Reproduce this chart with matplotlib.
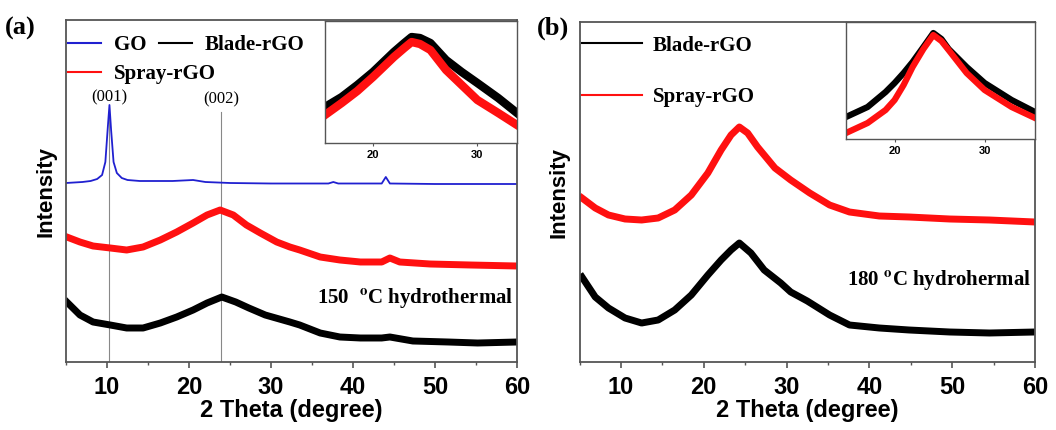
import numpy as np
import matplotlib
matplotlib.use("Agg")
import matplotlib.pyplot as plt
from matplotlib.ticker import MultipleLocator

plt.rcParams["mathtext.fontset"] = "stix"

W, H = 1056, 430

# ---- panel (a): 150 C hydrothermal (intensity in arbitrary units) ----
go_x = [5, 7, 8, 8.8, 9.4, 9.8, 10.1, 10.3, 10.5, 10.8, 11.2, 11.8, 12.5, 14, 18, 20.5, 22,
        25, 30, 37, 37.6, 38.2, 43.5, 44.0, 44.5, 50, 60]
go_y = [179, 180, 181, 183, 187, 200, 235, 257, 232, 200, 189, 184, 182, 181, 181, 182, 180,
        179, 178.5, 178.5, 180, 178.5, 178.5, 185, 178.5, 178, 178]

spray_a_x = [5.1, 6.7, 8.3, 10.4, 12.4, 14.4, 16.5, 18.5, 20.5, 22.2, 23.8, 25.4, 27.0, 28.7,
             30.7, 32.3, 33.5, 36.0, 38.4, 40.9, 43.5, 44.5, 45.7, 49.4, 54.3, 60]
spray_a_y = [125, 120, 116, 114, 112, 115, 122, 130, 139, 147, 152, 147, 137, 129,
             120, 115, 112, 105, 102, 100, 100, 104, 100, 98, 97, 96]

blade_a_x = [5.1, 6.7, 8.3, 10.4, 12.4, 14.4, 16.5, 18.5, 20.5, 22.2, 24.0, 25.7, 27.3, 29.3,
             32.3, 33.5, 36.0, 38.4, 40.9, 43.5, 44.5, 47.3, 51.6, 55.2, 60]
blade_a_y = [60, 47, 40, 37, 34, 34, 39, 45, 52, 59, 65, 60, 54, 47,
             40, 37, 29, 25, 24, 24, 25, 21, 20, 19, 20]

# inset (a)
ins_a_x = [15.4, 17, 18.5, 20, 21, 22, 23, 23.7, 24.5, 25.5, 27, 28.5, 30, 32, 33.8]
ins_a_spray = [28, 40, 52, 66, 76, 86, 95, 101, 99, 93, 73, 58, 43, 30, 18]
ins_a_blade = [36, 46, 58, 71, 81, 91, 100, 106, 105, 100, 83, 71, 60, 45, 30]

# ---- panel (b): 180 C hydrothermal ----
spray_b_x = [5.3, 6.9, 8.5, 10.5, 12.5, 14.5, 16.5, 18.5, 20.5, 22.1, 23.3, 24.3, 25.3, 26.5,
             28.6, 30.5, 32.8, 35.2, 37.6, 41.2, 44.8, 49.7, 54.5, 60]
spray_b_y = [164, 154, 147, 143, 142, 144, 152, 167, 189, 212, 227, 235, 229, 215,
             194, 182, 169, 157, 150, 146, 145, 143, 142, 140]

blade_b_x = [5.3, 6.9, 8.5, 10.5, 12.5, 14.5, 16.5, 18.5, 20.5, 22.1, 23.3, 24.3, 25.7, 27.3,
             29.3, 30.5, 32.5, 35.2, 37.6, 41.2, 44.8, 49.7, 54.5, 60]
blade_b_y = [85, 65, 54, 44, 39, 42, 52, 67, 87, 102, 112, 119, 109, 92,
             79, 70, 61, 47, 37, 34, 32, 30, 29, 30]

# inset (b)
ins_b_x = [14.6, 17, 19, 20, 21, 22, 23.2, 24.3, 25.2, 26, 28, 30, 33, 35.6]
ins_b_spray = [6, 16, 29, 39, 54, 72, 90, 104, 98, 89, 66, 49, 32, 21]
ins_b_blade = [22, 32, 47, 56, 66, 77, 92, 106, 100, 90, 72, 56, 39, 27]

xticks = [10, 20, 30, 40, 50, 60]
inset_ticks = [20, 30]

SERIF = "Liberation Serif"
SANS = "Liberation Sans"
FRAME = "#555555"
LEG_FONT = {"family": SERIF, "weight": "bold", "size": 15}


def fig_rect(x0, y0, x1, y1):
    return [x0 / W, (H - y1) / H, (x1 - x0) / W, (y1 - y0) / H]


def style_main(ax, ymax):
    ax.set_xlim(5, 60)
    ax.set_ylim(0, ymax)
    ax.set_xticks(xticks)
    ax.xaxis.set_minor_locator(MultipleLocator(5))
    ax.set_yticks([])
    ax.tick_params(axis="x", which="major", direction="out", length=4, width=1.2,
                   color=FRAME, pad=6)
    ax.tick_params(axis="x", which="minor", direction="out", length=2.5, width=1,
                   color=FRAME)
    for lab in ax.get_xticklabels():
        lab.set_fontfamily(SANS)
        lab.set_fontweight("bold")
        lab.set_fontsize(17)
    for sp in ax.spines.values():
        sp.set_color(FRAME)
        sp.set_linewidth(1.3)
    ax.set_xlabel("2 Theta (degree)", fontfamily=SANS, fontweight="bold", fontsize=17,
                  labelpad=0)
    ax.set_ylabel("Intensity", fontfamily=SANS, fontweight="bold", fontsize=16, labelpad=7)


def style_inset(ax, xlim, ymax):
    ax.set_xlim(*xlim)
    ax.set_ylim(0, ymax)
    ax.set_xticks(inset_ticks)
    ax.set_yticks([])
    ax.tick_params(axis="x", direction="out", length=2, width=0.8, color=FRAME, pad=3,
                   labelsize=8)
    for lab in ax.get_xticklabels():
        lab.set_fontfamily(SANS)
        lab.set_fontweight("bold")
    for sp in ax.spines.values():
        sp.set_color(FRAME)
        sp.set_linewidth(1.0)


def thin_handles(leg):
    for h in leg.legend_handles:
        h.set_linewidth(1.5)


fig = plt.figure(figsize=(W / 100, H / 100), dpi=100)

# panel (a)
ax_a = fig.add_axes(fig_rect(66, 20, 517, 362))
ax_a.axvline(10.3, ymin=0, ymax=(342 - 97) / 342, color="#888888", lw=0.8)
ax_a.axvline(23.9, ymin=0, ymax=(342 - 92) / 342, color="#888888", lw=0.8)
l_go, = ax_a.plot(go_x, go_y, color="#2020d0", lw=1.3, label="GO")
l_sp, = ax_a.plot(spray_a_x, spray_a_y, color="#ff1010", lw=5, label="Spray-rGO")
l_bl, = ax_a.plot(blade_a_x, blade_a_y, color="black", lw=5, label="Blade-rGO")
style_main(ax_a, 342)
ax_a.text(10.3, 342 - 77, "(001)", ha="center", va="center", fontfamily=SERIF, fontsize=12)
ax_a.text(23.9, 342 - 79, "(002)", ha="center", va="center", fontfamily=SERIF, fontsize=12)
ax_a.text(59.5, 362 - 298, r"150  $^{\mathbf{o}}$C hydrothermal", ha="right", va="center",
          fontfamily=SERIF, fontweight="bold", fontsize=15)
leg1 = ax_a.legend(handles=[l_go, l_bl], ncol=2, loc="upper left",
                   bbox_to_anchor=(0.004, 0.955), frameon=False, borderaxespad=0,
                   borderpad=0, handlelength=1.6, handletextpad=0.6, columnspacing=0.6,
                   prop=LEG_FONT)
thin_handles(leg1)
ax_a.add_artist(leg1)
leg2 = ax_a.legend(handles=[l_sp], loc="upper left", bbox_to_anchor=(0.004, 0.87),
                   frameon=False, borderaxespad=0, borderpad=0, handlelength=1.6,
                   handletextpad=0.6, prop=LEG_FONT)
thin_handles(leg2)
fig.text(5 / W, (H - 28) / H, "(a)", ha="left", va="center", fontfamily=SERIF,
         fontweight="bold", fontsize=19)

ins_a = fig.add_axes(fig_rect(325, 21, 517, 143))
ins_a.plot(ins_a_x, ins_a_blade, color="black", lw=6)
ins_a.plot(ins_a_x, ins_a_spray, color="#ff1010", lw=6)
style_inset(ins_a, (15.4, 33.8), 122)

# panel (b)
ax_b = fig.add_axes(fig_rect(579.5, 22, 1035, 362))
l_bl_b, = ax_b.plot(blade_b_x, blade_b_y, color="black", lw=5, label="Blade-rGO")
l_sp_b, = ax_b.plot(spray_b_x, spray_b_y, color="#ff1010", lw=5, label="Spray-rGO")
style_main(ax_b, 340)
ax_b.text(59.5, 362 - 280, r"180 $^{\mathbf{o}}$C hydrohermal", ha="right", va="center",
          fontfamily=SERIF, fontweight="bold", fontsize=15)
leg_b = ax_b.legend(handles=[l_bl_b, l_sp_b], loc="upper left",
                    bbox_to_anchor=(0.005, 0.96), frameon=False, borderaxespad=0,
                    borderpad=0, handlelength=2.9, handletextpad=0.5, labelspacing=1.5,
                    prop=LEG_FONT)
thin_handles(leg_b)
fig.text(537 / W, (H - 28) / H, "(b)", ha="left", va="center", fontfamily=SERIF,
         fontweight="bold", fontsize=19)

ins_b = fig.add_axes(fig_rect(846, 22, 1035, 139))
ins_b.plot(ins_b_x, ins_b_blade, color="black", lw=4.5)
ins_b.plot(ins_b_x, ins_b_spray, color="#ff1010", lw=4.5)
style_inset(ins_b, (14.6, 35.6), 117)

fig.savefig("out.png", dpi=100)
